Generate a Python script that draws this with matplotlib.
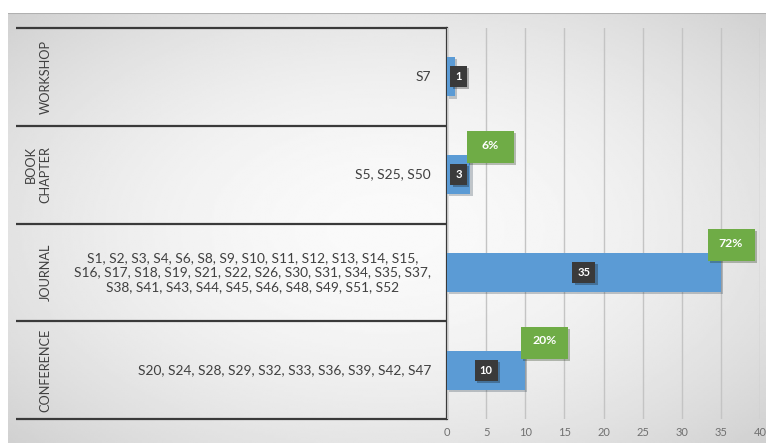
#!/usr/bin/env python

import matplotlib
matplotlib.use('Agg')

import matplotlib.pyplot     as plt
import matplotlib.patheffects as pe
import matplotlib.transforms as mtrans
import numpy                 as np

from matplotlib.patches import Rectangle

# publication types, bottom row first
types   = ['CONFERENCE', 'JOURNAL', 'BOOK\nCHAPTER', 'WORKSHOP']
counts  = [10, 35, 3, 1]
shares  = ['20%', '72%', '6%', None]
studies = ['S20, S24, S28, S29, S32, S33, S36, S39, S42, S47',
           'S1, S2, S3, S4, S6, S8, S9, S10, S11, S12, S13, S14, S15,\n'
           'S16, S17, S18, S19, S21, S22, S26, S30, S31, S34, S35, S37,\n'
           'S38, S41, S43, S44, S45, S46, S48, S49, S51, S52',
           'S5, S25, S50',
           'S7']
xticks  = [0, 5, 10, 15, 20, 25, 30, 35, 40]

BLUE  = '#5b9bd5'
GREEN = '#6fac46'
DARK  = '#3a3a3a'
TEXT  = '#404040'

W, H = 766, 443


def px(x0, y0, x1, y1):
    # pixel box (top-left origin) -> figure fraction rect
    return [x0 / W, 1 - y1 / H, (x1 - x0) / W, (y1 - y0) / H]


# ------------------------------------------------------------------------------
#
def main():

    plt.rcParams['font.family'] = ['Lato', 'DejaVu Sans']

    fig = plt.figure(figsize=(W / 100, H / 100), dpi=100)
    fig.patch.set_facecolor('white')

    # shaded backdrop
    bg = fig.add_axes(px(8, 13, W, H))
    yy, xx = np.mgrid[-1:1:200j, -1:1:400j]
    r = np.sqrt((xx * 0.95) ** 2 + (yy * 0.9) ** 2)
    shade = 0.98 - 0.16 * np.clip(r / 1.3, 0, 1) ** 1.8
    bg.imshow(shade, cmap='gray', vmin=0, vmax=1, aspect='auto',
              extent=(0, 1, 0, 1), interpolation='bilinear')
    bg.axhline(1, color='#b0b0b0', lw=1.5)
    bg.set_axis_off()

    n   = len(types)
    pos = np.arange(n)

    # left hand table with the study ids
    tab = fig.add_axes(px(16, 28, 447, 419))
    tab.set_xlim(0, 1)
    tab.set_ylim(-0.5, n - 0.5)
    tab.set_axis_off()
    for y in np.arange(n + 1) - 0.5:
        tab.plot([0, 1], [y, y], color=DARK, lw=1.6, clip_on=False,
                 solid_capstyle='butt')
    tab.plot([1, 1], [-0.5, n - 0.5], color=DARK, lw=1.6, clip_on=False)

    for i, (name, ids) in enumerate(zip(types, studies)):
        tab.text(0.083, i, name, rotation=90, ha='right', va='center',
                 fontsize=9.2, color=TEXT, linespacing=1.3)
        tab.text(0.963, i, ids, ha='right', va='center', multialignment='center',
                 fontsize=9.9, color=TEXT, linespacing=1.25)

    # bar chart
    ax = fig.add_axes(px(447, 28, 760, 419))
    ax.patch.set_alpha(0)
    bars = ax.barh(pos, counts, height=0.4, color=BLUE, zorder=2)
    for b in bars:
        b.set_path_effects([pe.SimplePatchShadow(offset=(1.5, -1.5),
                                                 alpha=0.25), pe.Normal()])

    ax.set_xlim(0, 40)
    ax.set_ylim(-0.5, n - 0.5)
    ax.set_xticks(xticks)
    ax.set_yticks([])
    ax.grid(axis='x', color='#c4c4c4', lw=1.0, zorder=0)
    ax.tick_params(axis='x', length=0, pad=6, labelsize=8, labelcolor='#707070')
    for s in ax.spines.values():
        s.set_visible(False)

    for i, (v, pct) in enumerate(zip(counts, shares)):
        # count tag
        t = ax.text(max(v / 2., 1.5), i, '%d' % v, ha='center', va='center',
                    fontsize=8, fontweight='bold', color='white', zorder=5,
                    bbox=dict(boxstyle='square,pad=0.45', fc=DARK, ec='none'))
        t.get_bbox_patch().set_path_effects(
            [pe.SimplePatchShadow(offset=(1.5, -1.5), alpha=0.3), pe.Normal()])
        if not pct:
            continue
        # share tag, a fixed size box above the bar end
        cx = min(v + 2.5, 36.3)
        cy = i + 0.28
        tr = fig.dpi_scale_trans + mtrans.ScaledTranslation(cx, cy, ax.transData)
        box = Rectangle((-0.235, -0.16), 0.47, 0.32, transform=tr,
                        fc=GREEN, ec='none', zorder=4, clip_on=False)
        box.set_path_effects([pe.SimplePatchShadow(offset=(1.5, -1.5),
                                                   alpha=0.3), pe.Normal()])
        ax.add_patch(box)
        ax.text(cx, cy + 0.02, pct, ha='center', va='center', fontsize=8.8,
                fontweight='bold', color='white', zorder=6)

    plt.savefig('out.png', dpi=100)


# ------------------------------------------------------------------------------
#
if __name__ == '__main__':

    main()

# ------------------------------------------------------------------------------
